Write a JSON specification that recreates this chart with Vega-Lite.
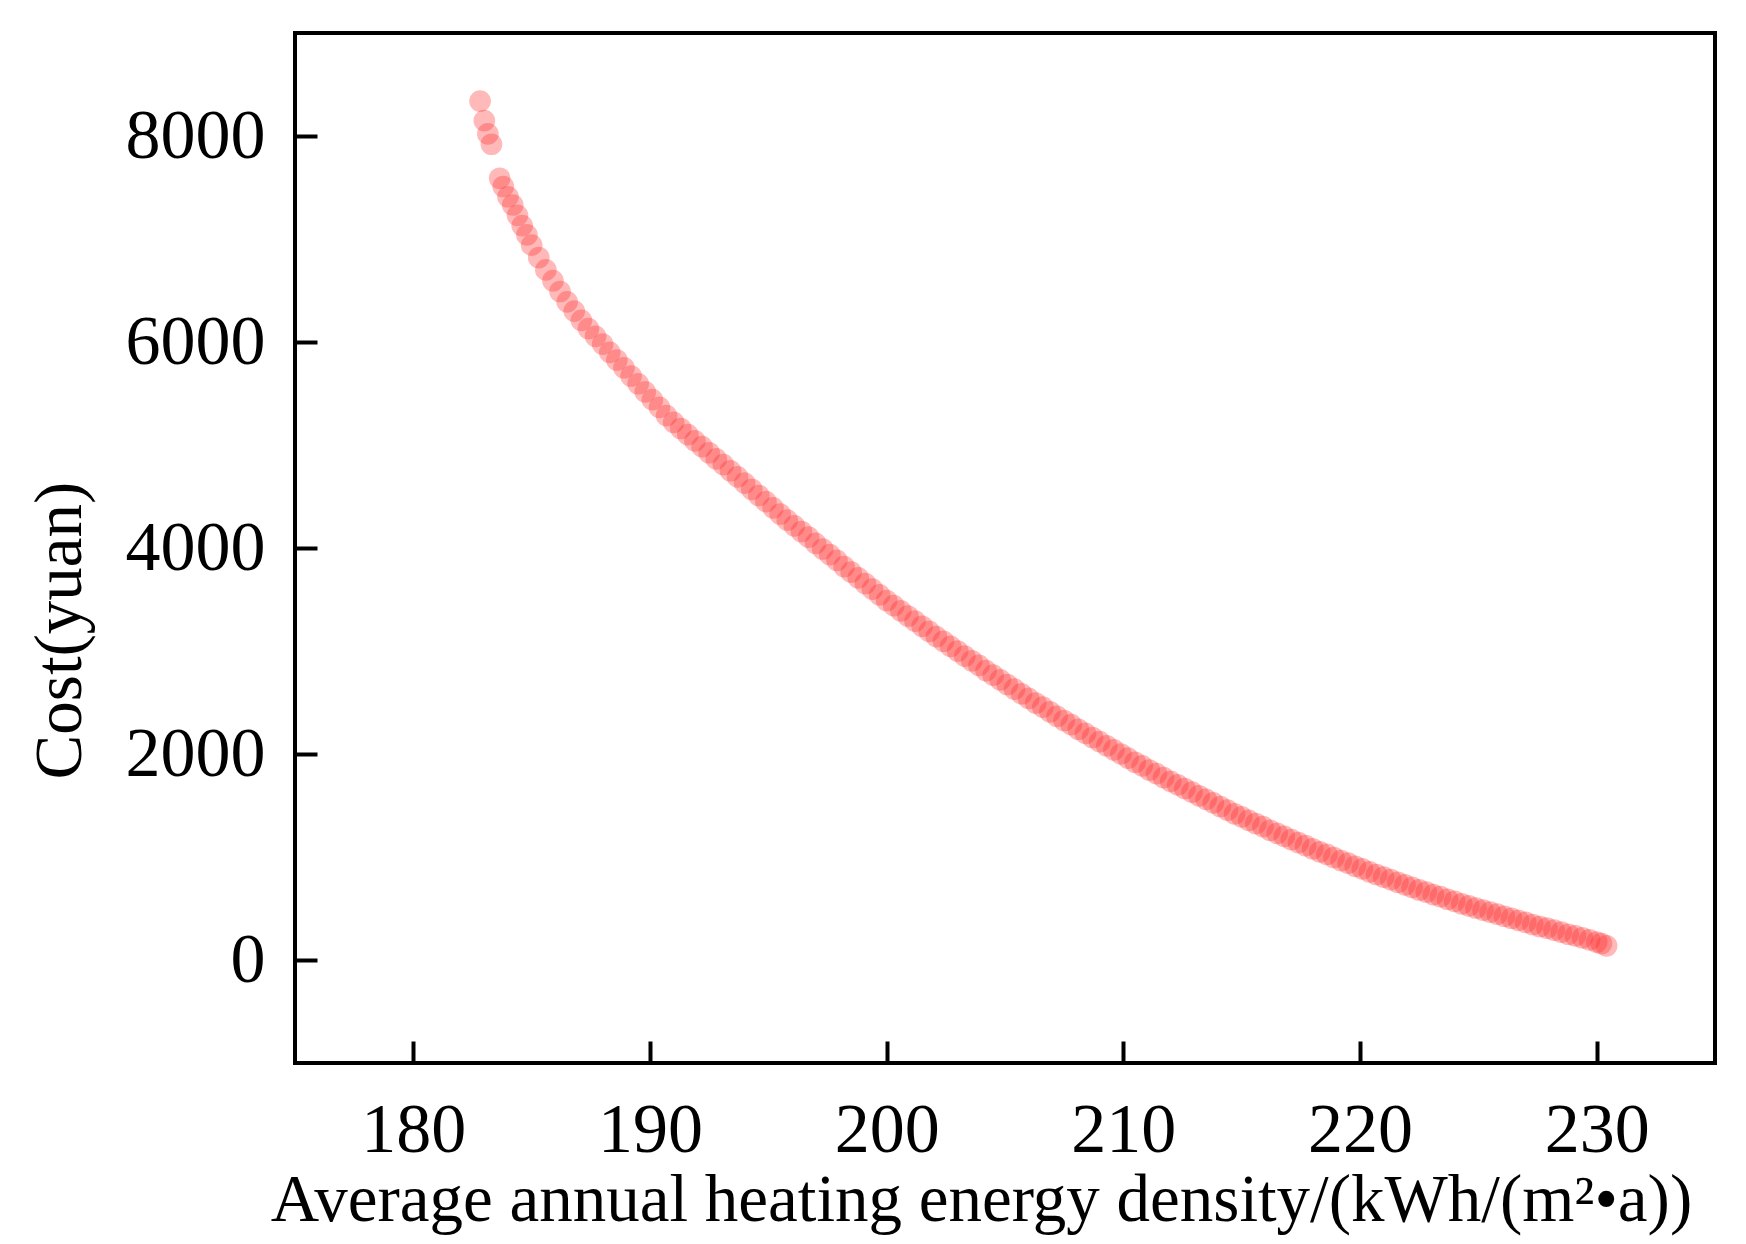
{
  "$schema": "https://vega.github.io/schema/vega-lite/v6.json",
  "width": 1420,
  "height": 1030,
  "autosize": {"type": "none"},
  "padding": {"left": 295, "top": 33, "right": 31, "bottom": 181},
  "background": "white",
  "config": {
    "view": {"stroke": "black", "strokeWidth": 4},
    "font": "Liberation Serif",
    "axis": {
      "labelFont": "Liberation Serif",
      "titleFont": "Liberation Serif",
      "labelFontSize": 70,
      "titleFontSize": 67,
      "titleFontWeight": "normal",
      "labelColor": "black",
      "titleColor": "black",
      "tickColor": "black",
      "tickWidth": 4,
      "tickSize": -22,
      "domain": false,
      "grid": false
    }
  },
  "data": {
    "values": [
      {"energy": 182.82, "cost": 8339},
      {"energy": 183.0, "cost": 8150},
      {"energy": 183.15, "cost": 8020},
      {"energy": 183.3, "cost": 7920},
      {"energy": 183.65, "cost": 7590},
      {"energy": 183.8, "cost": 7510},
      {"energy": 184.0, "cost": 7410},
      {"energy": 184.2, "cost": 7330},
      {"energy": 184.4, "cost": 7230},
      {"energy": 184.6, "cost": 7130},
      {"energy": 184.8, "cost": 7040},
      {"energy": 185.0, "cost": 6940},
      {"energy": 185.3, "cost": 6820},
      {"energy": 185.6, "cost": 6700},
      {"energy": 185.9, "cost": 6595},
      {"energy": 186.2, "cost": 6490},
      {"energy": 186.5, "cost": 6390},
      {"energy": 186.8, "cost": 6300},
      {"energy": 187.1, "cost": 6210},
      {"energy": 187.4, "cost": 6130},
      {"energy": 187.7, "cost": 6055},
      {"energy": 188.0, "cost": 5980},
      {"energy": 188.3, "cost": 5900},
      {"energy": 188.6, "cost": 5825},
      {"energy": 188.9, "cost": 5750},
      {"energy": 189.2, "cost": 5670},
      {"energy": 189.5, "cost": 5595},
      {"energy": 189.8, "cost": 5515},
      {"energy": 190.1, "cost": 5440},
      {"energy": 190.4, "cost": 5365},
      {"energy": 190.7, "cost": 5285},
      {"energy": 191.0, "cost": 5220},
      {"energy": 191.3, "cost": 5160},
      {"energy": 191.6, "cost": 5100},
      {"energy": 191.9, "cost": 5040},
      {"energy": 192.2, "cost": 4985},
      {"energy": 192.5, "cost": 4925},
      {"energy": 192.8, "cost": 4865},
      {"energy": 193.1, "cost": 4810},
      {"energy": 193.4, "cost": 4750},
      {"energy": 193.7, "cost": 4690},
      {"energy": 194.0, "cost": 4630},
      {"energy": 194.3, "cost": 4570},
      {"energy": 194.6, "cost": 4510},
      {"energy": 194.9, "cost": 4450},
      {"energy": 195.2, "cost": 4390},
      {"energy": 195.5, "cost": 4330},
      {"energy": 195.8, "cost": 4270},
      {"energy": 196.1, "cost": 4215},
      {"energy": 196.4, "cost": 4160},
      {"energy": 196.7, "cost": 4105},
      {"energy": 197.0, "cost": 4045},
      {"energy": 197.3, "cost": 3990},
      {"energy": 197.6, "cost": 3935},
      {"energy": 197.9, "cost": 3880},
      {"energy": 198.2, "cost": 3820},
      {"energy": 198.5, "cost": 3765},
      {"energy": 198.8, "cost": 3710},
      {"energy": 199.1, "cost": 3655},
      {"energy": 199.4, "cost": 3600},
      {"energy": 199.7, "cost": 3545},
      {"energy": 200.0, "cost": 3490},
      {"energy": 200.3, "cost": 3440},
      {"energy": 200.6, "cost": 3390},
      {"energy": 200.9, "cost": 3340},
      {"energy": 201.2, "cost": 3290},
      {"energy": 201.5, "cost": 3240},
      {"energy": 201.8, "cost": 3190},
      {"energy": 202.1, "cost": 3140},
      {"energy": 202.4, "cost": 3095},
      {"energy": 202.7, "cost": 3045},
      {"energy": 203.0, "cost": 3000},
      {"energy": 203.3, "cost": 2950},
      {"energy": 203.6, "cost": 2905},
      {"energy": 203.9, "cost": 2860},
      {"energy": 204.2, "cost": 2810},
      {"energy": 204.5, "cost": 2765},
      {"energy": 204.8, "cost": 2720},
      {"energy": 205.1, "cost": 2675},
      {"energy": 205.4, "cost": 2630},
      {"energy": 205.7, "cost": 2585},
      {"energy": 206.0, "cost": 2540},
      {"energy": 206.3, "cost": 2495},
      {"energy": 206.6, "cost": 2455},
      {"energy": 206.9, "cost": 2410},
      {"energy": 207.2, "cost": 2365},
      {"energy": 207.5, "cost": 2325},
      {"energy": 207.8, "cost": 2285},
      {"energy": 208.1, "cost": 2240},
      {"energy": 208.4, "cost": 2200},
      {"energy": 208.7, "cost": 2160},
      {"energy": 209.0, "cost": 2120},
      {"energy": 209.3, "cost": 2080},
      {"energy": 209.6, "cost": 2040},
      {"energy": 209.9, "cost": 2000},
      {"energy": 210.2, "cost": 1960},
      {"energy": 210.5, "cost": 1920},
      {"energy": 210.8, "cost": 1885},
      {"energy": 211.1, "cost": 1845},
      {"energy": 211.4, "cost": 1810},
      {"energy": 211.7, "cost": 1770},
      {"energy": 212.0, "cost": 1735},
      {"energy": 212.3, "cost": 1700},
      {"energy": 212.6, "cost": 1665},
      {"energy": 212.9, "cost": 1630},
      {"energy": 213.2, "cost": 1595},
      {"energy": 213.5, "cost": 1560},
      {"energy": 213.8, "cost": 1525},
      {"energy": 214.1, "cost": 1490},
      {"energy": 214.4, "cost": 1455},
      {"energy": 214.7, "cost": 1420},
      {"energy": 215.0, "cost": 1390},
      {"energy": 215.3, "cost": 1355},
      {"energy": 215.6, "cost": 1325},
      {"energy": 215.9, "cost": 1295},
      {"energy": 216.2, "cost": 1260},
      {"energy": 216.5, "cost": 1230},
      {"energy": 216.8, "cost": 1200},
      {"energy": 217.1, "cost": 1170},
      {"energy": 217.4, "cost": 1140},
      {"energy": 217.7, "cost": 1110},
      {"energy": 218.0, "cost": 1080},
      {"energy": 218.3, "cost": 1050},
      {"energy": 218.6, "cost": 1025},
      {"energy": 218.9, "cost": 995},
      {"energy": 219.2, "cost": 965},
      {"energy": 219.5, "cost": 940},
      {"energy": 219.8, "cost": 910},
      {"energy": 220.1, "cost": 885},
      {"energy": 220.4, "cost": 855},
      {"energy": 220.7, "cost": 830},
      {"energy": 221.0, "cost": 805},
      {"energy": 221.3, "cost": 780},
      {"energy": 221.6, "cost": 755},
      {"energy": 221.9, "cost": 730},
      {"energy": 222.2, "cost": 705},
      {"energy": 222.5, "cost": 680},
      {"energy": 222.8, "cost": 660},
      {"energy": 223.1, "cost": 635},
      {"energy": 223.4, "cost": 615},
      {"energy": 223.7, "cost": 590},
      {"energy": 224.0, "cost": 570},
      {"energy": 224.3, "cost": 545},
      {"energy": 224.6, "cost": 525},
      {"energy": 224.9, "cost": 505},
      {"energy": 225.2, "cost": 485},
      {"energy": 225.5, "cost": 465},
      {"energy": 225.8, "cost": 445},
      {"energy": 226.1, "cost": 425},
      {"energy": 226.4, "cost": 405},
      {"energy": 226.7, "cost": 385},
      {"energy": 227.0, "cost": 365},
      {"energy": 227.3, "cost": 345},
      {"energy": 227.6, "cost": 325},
      {"energy": 227.9, "cost": 310},
      {"energy": 228.2, "cost": 290},
      {"energy": 228.5, "cost": 270},
      {"energy": 228.8, "cost": 250},
      {"energy": 229.1, "cost": 235},
      {"energy": 229.4, "cost": 215},
      {"energy": 229.7, "cost": 195},
      {"energy": 230.0, "cost": 175},
      {"energy": 230.2, "cost": 160},
      {"energy": 230.42, "cost": 138}
    ]
  },
  "mark": {"type": "circle", "size": 470, "color": "#ff2a2a", "opacity": 0.33},
  "encoding": {
    "x": {
      "field": "energy",
      "type": "quantitative",
      "scale": {"domain": [175, 235], "nice": false, "zero": false},
      "axis": {
        "values": [180, 190, 200, 210, 220, 230],
        "format": "d",
        "title": "Average annual heating energy density/(kWh/(m²•a))",
        "labelPadding": 55,
        "titleX": 686,
        "titleY": 157,
        "titleBaseline": "alphabetic",
        "titleAlign": "center",
        "titleAnchor": null
      }
    },
    "y": {
      "field": "cost",
      "type": "quantitative",
      "scale": {"domain": [-1000, 9000], "nice": false, "zero": false},
      "axis": {
        "values": [0, 2000, 4000, 6000, 8000],
        "format": "d",
        "title": "Cost(yuan)",
        "labelPadding": 52,
        "titleX": -215,
        "titleY": 597,
        "titleAngle": 270,
        "titleBaseline": "alphabetic",
        "titleAlign": "center"
      }
    }
  }
}
